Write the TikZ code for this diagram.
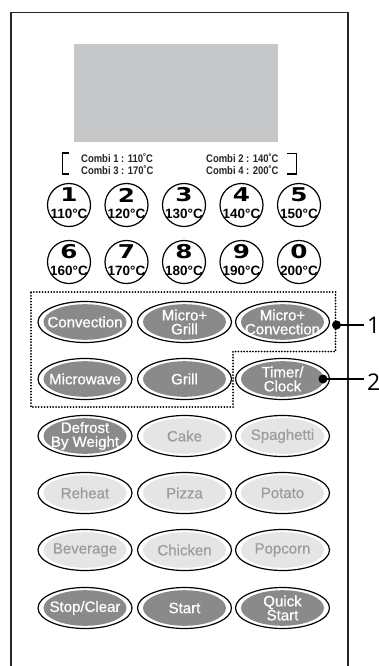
\documentclass[tikz,border=0pt]{standalone}
\usepackage{fontspec}
\setmainfont{Liberation Sans}
\newfontfamily\digitfont{DejaVu Sans}
\newfontfamily\labelfont{Open Sans}
\newfontfamily\btnfont[FakeBold=0.7]{Liberation Sans}
\newfontfamily\combifont[FakeStretch=0.86]{Liberation Sans}
\usetikzlibrary{shapes.geometric}
\definecolor{btndark}{HTML}{8A8A8C}
\definecolor{btnlight}{HTML}{E4E5E6}
\definecolor{btntxt}{HTML}{9C9C9C}
\definecolor{lcd}{HTML}{C6C7C9}
\tikzset{
  numcirc/.style={circle, draw, line width=1.2pt, minimum size=43pt, inner sep=0pt},
  digitlbl/.style={inner sep=0pt, font=\digitfont\bfseries\fontsize{19}{19}\selectfont},
  templbl/.style={inner sep=0pt, font=\bfseries\fontsize{13.5}{13.5}\selectfont},
  outerell/.style={ellipse, draw, line width=1.2pt, minimum width=94pt, minimum height=41pt, inner sep=0pt},
  btntext/.style={inner sep=0pt, align=center, font=\btnfont\fontsize{15}{14}\selectfont},
  combitxt/.style={inner sep=0pt, anchor=west, align=left, text=black!85, font=\combifont\bfseries\fontsize{11}{12.5}\selectfont},
  dotbox/.style={line width=2pt, dash pattern=on 0pt off 2.9pt, line cap=round},
  leader/.style={line width=1.4pt},
  callout/.style={inner sep=0pt, anchor=base west, font=\labelfont\fontsize{23}{23}\selectfont}
}
\newcommand{\numbtn}[5]{%
  \node[numcirc] (#1) at (#2,#3) {};
  \node[digitlbl] (#1-d) at (#2,#3-10) {\scalebox{1.3}[1]{#4}};
  \node[templbl] (#1-t) at (#2,#3+8.5) {#5};
}
\newcommand{\fbtn}[6]{%
  \node[outerell] (#1) at (#2,#3) {};
  \fill[#4] (#1.center) ellipse (41.5 and 17.8);
  \node[btntext, text=#5] (#1-t) at (#1.center) {#6};
}
\begin{document}
\begin{tikzpicture}[x=1pt,y=-1pt]
\useasboundingbox (0,0) rectangle (379,666);
\fill[white] (0,0) rectangle (379,666);
% panel
\draw[line width=1.3pt, black!85] (11,667) -- (11,12.5) -- (348,12.5) -- (348,667);
% display
\node[fill=lcd, minimum width=204pt, minimum height=98pt, inner sep=0pt] (lcd) at (176,93) {};
% combi texts
\node[combitxt] (combiL) at (81,164) {Combi 1 : 110˚C\\Combi 3 : 170˚C};
\node[combitxt] (combiR) at (206,164) {Combi 2 : 140˚C\\Combi 4 : 200˚C};
\draw[line width=1.1pt] (68.5,153) -- (62.5,153) -- (62.5,174) -- (68.5,174);
\draw[line width=1.1pt] (287,153.5) -- (296.5,153.5) -- (296.5,174) -- (287,174);
% number buttons
\numbtn{n1}{69}{205}{1}{110°C}
\numbtn{n2}{126.5}{205}{2}{120°C}
\numbtn{n3}{184}{205}{3}{130°C}
\numbtn{n4}{241.5}{205}{4}{140°C}
\numbtn{n5}{299}{205}{5}{150°C}
\numbtn{n6}{69}{262}{6}{160°C}
\numbtn{n7}{126.5}{262}{7}{170°C}
\numbtn{n8}{184}{262}{8}{180°C}
\numbtn{n9}{241.5}{262}{9}{190°C}
\numbtn{n0}{299}{262}{0}{200°C}
% function buttons
\fbtn{conv}{85}{322}{btndark}{white}{Convection}
\fbtn{mgrill}{184.5}{322}{btndark}{white}{Micro+\\Grill}
\fbtn{mconv}{282.5}{322}{btndark}{white}{Micro+\\Convection}
\fbtn{micro}{85}{379}{btndark}{white}{Microwave}
\fbtn{grill}{184.5}{379}{btndark}{white}{Grill}
\fbtn{timer}{282.5}{379}{btndark}{white}{Timer/\\Clock}
\fbtn{defrost}{85}{436}{btndark}{white}{Defrost\\By Weight}
\fbtn{cake}{184.5}{436}{btnlight}{btntxt}{Cake}
\fbtn{spag}{282.5}{436}{btnlight}{btntxt}{Spaghetti}
\fbtn{reheat}{85}{493}{btnlight}{btntxt}{Reheat}
\fbtn{pizza}{184.5}{493}{btnlight}{btntxt}{Pizza}
\fbtn{potato}{282.5}{493}{btnlight}{btntxt}{Potato}
\fbtn{bev}{85}{550}{btnlight}{btntxt}{Beverage}
\fbtn{chicken}{184.5}{550}{btnlight}{btntxt}{Chicken}
\fbtn{popcorn}{282.5}{550}{btnlight}{btntxt}{Popcorn}
\fbtn{stop}{85}{608}{btndark}{white}{Stop/Clear}
\fbtn{start}{184.5}{608}{btndark}{white}{Start}
\fbtn{quick}{282.5}{608}{btndark}{white}{Quick\\Start}
% dotted group
\draw[dotbox] (31,292) -- (335.5,292) -- (335.5,351.5) -- (233,351.5) -- (233,407) -- (31,407) -- cycle;
% callouts
\coordinate (g1) at (336.5,325);
\coordinate (g2) at (323,379);
\node[callout] (l1) at (367,333) {1};
\node[callout] (l2) at (367,390) {2};
\fill (g1) circle (4.5);
\fill (g2) circle (4.5);
\draw[leader] (g1) -- ([xshift=-3pt]g1 -| l1.west);
\draw[leader] (g2) -- ([xshift=-3pt]g2 -| l2.west);
\end{tikzpicture}
\end{document}
